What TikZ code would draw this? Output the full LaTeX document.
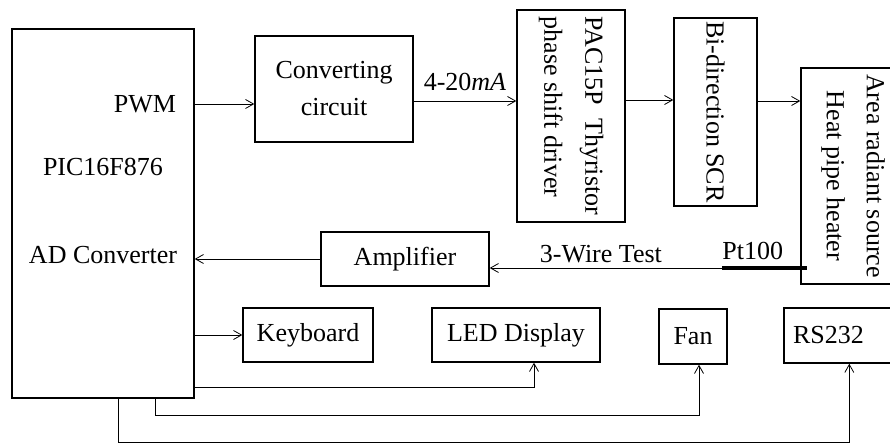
\documentclass[tikz,border=0pt]{standalone}
\usepackage{fontspec}
\setmainfont{Liberation Serif}
\usepackage{graphicx}
\usetikzlibrary{arrows.meta, positioning, calc}

\begin{document}
\begin{tikzpicture}[x=1pt, y=-1pt,
    every node/.style={font=\fontsize{26}{31}\selectfont},
    blk/.style={draw, line width=1.4pt, inner sep=0pt},
    conn/.style={line width=0.8pt, -{Straight Barb[length=8pt, width=9pt]}},
    wire/.style={line width=0.8pt}]
  \useasboundingbox (0,0) rectangle (890,443);
  \clip (0,0) rectangle (890,443);

  % microcontroller
  \node[blk, minimum width=182, minimum height=369] (pic) at (103,213.5) {};
  \node (pwm) at (145,104) {PWM};
  \node (chip) at (103,167) {PIC16F876};
  \node (adc) at (103,255) {AD Converter};

  % forward path
  \node[blk, minimum width=158, minimum height=106, align=center] (conv) at (334,89)
    {Converting\\[6pt]circuit};
  \node[blk, minimum width=108, minimum height=212] (pac) at (571,116)
    {\rotatebox{-90}{\begin{tabular}{@{}l@{}}PAC15P\ \ Thyristor\\[10pt]phase shift driver\end{tabular}}};
  \node[blk, minimum width=83, minimum height=188] (scr) at (715.5,112)
    {\rotatebox{-90}{Bi-direction SCR}};
  \node[blk, minimum width=114, minimum height=216] (heater) at (858,176)
    {\hspace*{-5pt}\rotatebox{-90}{\begin{tabular}{@{}c@{}}Area radiant source\\[9pt]Heat pipe heater\end{tabular}}\hspace*{5pt}};

  % feedback
  \node[blk, minimum width=168, minimum height=54] (amp) at (405,259) {Amplifier};
  \coordinate (pt) at (722,268);

  % peripherals
  \node[blk, minimum width=130, minimum height=54] (kbd) at (308,335) {Keyboard};
  \node[blk, minimum width=168, minimum height=54] (led) at (516,335) {LED Display};
  \node[blk, minimum width=68, minimum height=55] (fan) at (693,336.5) {Fan};
  \node[blk, text width=118, inner xsep=9pt, minimum height=55, align=left] (rs) at (852,335.5) {RS232};

  % connectors
  \draw[conn] (pic.east |- pwm) -- (conv.west |- pwm);
  \coordinate (c1) at ([yshift=-12pt]conv.east);
  \draw[conn] (c1) -- node[above=7pt] {4-20\textit{mA}} (c1 -| pac.west);
  \coordinate (c2) at ([yshift=16pt]pac.east);
  \draw[conn] (c2) -- (c2 -| scr.west);
  \coordinate (c3) at ([yshift=11pt]scr.east);
  \draw[conn] (c3) -- (c3 -| heater.west);

  \draw[conn] (pt) -- node[above=1pt, xshift=-5pt] {3-Wire Test} (pt -| amp.east);
  \draw[line width=4pt] (pt) -- node[above=3pt, pos=0.36] {Pt100} ([xshift=7pt]pt -| heater.west);
  \draw[conn] (amp.west) -- (amp.west -| pic.east);

  \draw[conn] (kbd.west -| pic.east) -- (kbd.west);
  \draw[conn] ([yshift=11pt]pic.south east) -| ([xshift=18pt]led.south);
  \draw[conn] ([xshift=52pt]pic.south) -- ++(0,17) -| ([xshift=6pt]fan.south);
  \draw[conn] ([xshift=15pt]pic.south) -- ++(0,44) -| ([xshift=66pt]rs.south west);
\end{tikzpicture}
\end{document}
